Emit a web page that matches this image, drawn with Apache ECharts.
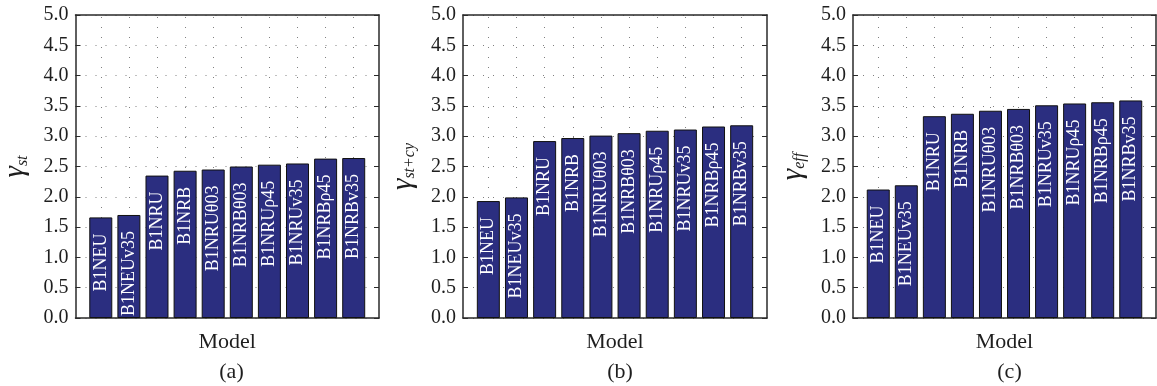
<!DOCTYPE html>
<html>
<head>
<meta charset="utf-8">
<style>
  html, body { margin: 0; padding: 0; background: #fff; }
  #chart { width: 1157px; height: 386px; }
</style>
<script src="https://cdn.jsdelivr.net/npm/echarts@6/dist/echarts.min.js"></script>
</head>
<body>
<div id="chart"></div>
<script>
// Model names, in the order each panel plots them
const modelsAB = ['B1NEU', 'B1NEUv35', 'B1NRU', 'B1NRB', 'B1NRUθ03', 'B1NRBθ03', 'B1NRUρ45', 'B1NRUv35', 'B1NRBρ45', 'B1NRBv35'];
const modelsC  = ['B1NEU', 'B1NEUv35', 'B1NRU', 'B1NRB', 'B1NRUθ03', 'B1NRBθ03', 'B1NRUv35', 'B1NRUρ45', 'B1NRBρ45', 'B1NRBv35'];

// Overstrength factors per model
const gammaSt   = [1.66, 1.70, 2.35, 2.43, 2.45, 2.50, 2.53, 2.55, 2.63, 2.64];
const gammaStCy = [1.93, 1.99, 2.92, 2.97, 3.01, 3.05, 3.09, 3.11, 3.16, 3.18];
const gammaEff  = [2.12, 2.19, 3.33, 3.37, 3.42, 3.45, 3.51, 3.54, 3.56, 3.59];

// Axis texts
const yNames = ['{g|γ}{s|st}', '{g|γ}{s|st+cy}', '{g|γ}{s|eff}'];
const xName = 'Model';
const panelTags = ['(a)', '(b)', '(c)'];

const SERIF = '"Liberation Serif", "DejaVu Serif", serif';
const INK = '#1e1e1e';
const FRAME = '#2a2a2a';
const BAR = '#2b2e80';

const panels = [
  { models: modelsAB, values: gammaSt,   left: 74,  width: 305 },
  { models: modelsAB, values: gammaStCy, left: 463, width: 304 },
  { models: modelsC,  values: gammaEff,  left: 853, width: 303 }
];
const TOP = 15, HEIGHT = 303;

const grid = [], xAxis = [], yAxis = [], series = [], title = [];

panels.forEach((p, i) => {
  grid.push({ left: p.left, top: TOP, width: p.width, height: HEIGHT, containLabel: false });

  // bottom axis carries the "Model" caption; top axis closes the frame
  xAxis.push({
    type: 'value', gridIndex: i, min: 0.1, max: 10.9, position: 'bottom',
    name: xName, nameLocation: 'middle', nameGap: 13,
    nameTextStyle: { fontFamily: SERIF, fontSize: 22, color: INK },
    axisLine: { show: true, onZero: false, lineStyle: { color: FRAME, width: 1.5 } },
    axisTick: { show: false }, axisLabel: { show: false }, splitLine: { show: false }
  });
  xAxis.push({
    type: 'value', gridIndex: i, min: 0.1, max: 10.9, position: 'top',
    axisLine: { show: true, onZero: false, lineStyle: { color: FRAME, width: 1.5 } },
    axisTick: { show: false }, axisLabel: { show: false }, splitLine: { show: false }
  });

  yAxis.push({
    type: 'value', gridIndex: i, min: 0, max: 5, interval: 0.5, position: 'left',
    name: yNames[i], nameLocation: 'middle', nameRotate: 90, nameGap: 45,
    nameTextStyle: {
      color: INK,
      rich: {
        g: { fontFamily: SERIF, fontStyle: 'italic', fontSize: 29, color: INK, lineHeight: 30 },
        s: { fontFamily: SERIF, fontStyle: 'italic', fontSize: 16, color: INK, verticalAlign: 'bottom', lineHeight: 22 }
      }
    },
    axisLine: { show: true, lineStyle: { color: FRAME, width: 1.5 } },
    axisTick: { show: true, inside: true, length: 5, lineStyle: { color: FRAME } },
    axisLabel: {
      fontFamily: SERIF, fontSize: 20, color: INK, margin: 7,
      formatter: v => v.toFixed(1)
    },
    splitLine: { show: true, lineStyle: { color: '#808080', width: 1, type: [1, 9] } }
  });
  yAxis.push({
    type: 'value', gridIndex: i, min: 0, max: 5, interval: 0.5, position: 'right',
    axisLine: { show: true, lineStyle: { color: FRAME, width: 1.5 } },
    axisTick: { show: true, inside: true, length: 5, lineStyle: { color: FRAME } },
    axisLabel: { show: false }, splitLine: { show: false }
  });

  series.push({
    type: 'bar', xAxisIndex: 2 * i, yAxisIndex: 2 * i, z: 3,
    barWidth: 23,
    itemStyle: { color: BAR, borderColor: '#111', borderWidth: 1 },
    data: p.values.map((v, k) => [k + 1, v]),
    label: {
      show: true, position: 'insideTop', distance: 16, rotate: 90,
      align: 'right', verticalAlign: 'middle',
      fontFamily: SERIF, fontSize: 18, color: '#fff',
      formatter: q => p.models[q.dataIndex]
    },
    // dotted vertical grid at each model position, kept behind the bars
    markLine: {
      silent: true, symbol: 'none', z: 1, animation: false,
      label: { show: false },
      lineStyle: { color: '#808080', width: 1, type: [1, 9] },
      data: p.models.map((m, k) => ({ xAxis: k + 1 }))
    }
  });

  title.push({
    text: panelTags[i], left: p.left + p.width / 2, top: 356, textAlign: 'center',
    textStyle: { fontFamily: SERIF, fontSize: 22, fontWeight: 'normal', color: INK }
  });
});

const chart = echarts.init(document.getElementById('chart'), null, { renderer: 'canvas' });
chart.setOption({ animation: false, backgroundColor: '#fff', title, grid, xAxis, yAxis, series });
</script>
</body>
</html>
